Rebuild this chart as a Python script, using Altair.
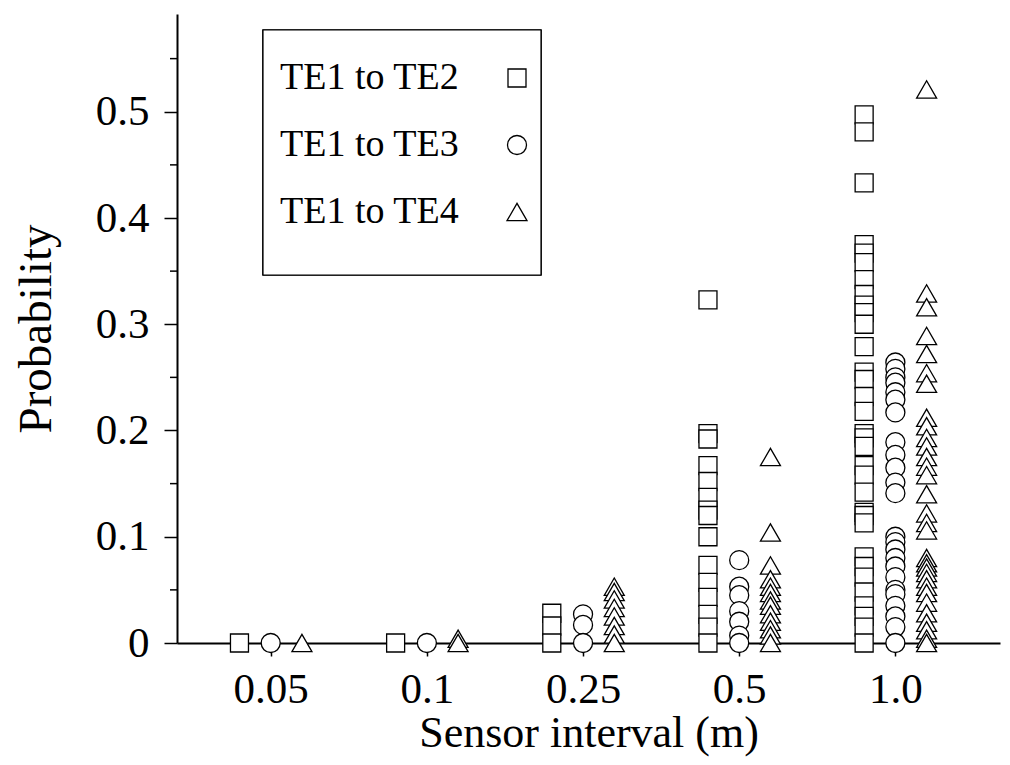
import altair as alt
import pandas as pd

intervals = ["0.05", "0.1", "0.25", "0.5", "1.0"]
series = ["TE1 to TE2", "TE1 to TE3", "TE1 to TE4"]

# values per series, per sensor interval
te2 = {
    "0.05": [0.0],
    "0.1": [0.0],
    "0.25": [0.028, 0.016, 0.0],
    "0.5": [0.323, 0.197, 0.192, 0.167, 0.152, 0.137, 0.125, 0.120, 0.100,
            0.073, 0.057, 0.043, 0.027, 0.015, 0.0],
    "1.0": [0.497, 0.481, 0.433, 0.375, 0.367, 0.358, 0.342, 0.328, 0.318,
            0.311, 0.300, 0.279, 0.255, 0.248, 0.232, 0.218, 0.197, 0.193,
            0.185, 0.167, 0.158, 0.142, 0.123, 0.120, 0.113, 0.081, 0.072,
            0.062, 0.048, 0.035, 0.025, 0.015, 0.0],
}
te3 = {
    "0.05": [0.0],
    "0.1": [0.0],
    "0.25": [0.027, 0.017, 0.0],
    "0.5": [0.078, 0.053, 0.045, 0.030, 0.020, 0.007, 0.0],
    "1.0": [0.264, 0.258, 0.250, 0.245, 0.236, 0.229, 0.217, 0.189, 0.177,
            0.165, 0.151, 0.141, 0.100, 0.095, 0.088, 0.080, 0.072, 0.062,
            0.050, 0.046, 0.035, 0.025, 0.015, 0.0],
}
te4 = {
    "0.05": [0.0],
    "0.1": [0.004, 0.0],
    "0.25": [0.053, 0.048, 0.041, 0.033, 0.025, 0.016, 0.008, 0.0],
    "0.5": [0.175, 0.104, 0.073, 0.060, 0.053, 0.047, 0.040, 0.035, 0.027,
            0.020, 0.013, 0.007, 0.0],
    "1.0": [0.521, 0.329, 0.316, 0.289, 0.272, 0.254, 0.244, 0.212, 0.204,
            0.193, 0.185, 0.175, 0.166, 0.158, 0.140, 0.122, 0.113, 0.106,
            0.080, 0.075, 0.071, 0.066, 0.060, 0.053, 0.047, 0.038, 0.028,
            0.019, 0.012, 0.004, 0.0],
}
series_offsets = [-0.2, 0.0, 0.2]
y_major = [0.0, 0.1, 0.2, 0.3, 0.4, 0.5]
y_minor = [0.05, 0.15, 0.25, 0.35, 0.45, 0.55]

rows = []
for s, off, table in zip(series, series_offsets, [te2, te3, te4]):
    for i, iv in enumerate(intervals):
        for v in table[iv]:
            rows.append({"series": s, "pos": i + off, "value": v})
df = pd.DataFrame(rows)
legend_df = pd.DataFrame({"series": series})

FONT = "Liberation Serif"
label_expr = "[" + ",".join(f"'{t}'" for t in intervals) + "][datum.value]"

x_scale = alt.Scale(domain=[-0.6, 4.67], nice=False, zero=False)
y_scale = alt.Scale(domain=[0, 0.592], nice=False, zero=False)
shape_scale = alt.Scale(domain=series, range=["square", "circle", "triangle-up"])
size_scale = alt.Scale(domain=series, range=[324, 400, 529])

points = alt.Chart(df).mark_point(
    filled=True, fill="white", stroke="black", strokeWidth=1.3, opacity=1
).encode(
    x=alt.X("pos:Q", scale=x_scale,
            axis=alt.Axis(values=list(range(len(intervals))), labelExpr=label_expr,
                          title="Sensor interval (m)", tickSize=13, tickWidth=1.5,
                          tickColor="black", domainColor="black", domainWidth=2,
                          labelPadding=12, labelFontSize=43,
                          titleFontSize=44, titleY=103, titleBaseline="alphabetic",
                          grid=False)),
    y=alt.Y("value:Q", scale=y_scale,
            axis=alt.Axis(values=y_major,
                          labelExpr="datum.value == 0 ? '0' : format(datum.value, '.1f')",
                          title="Probability", tickSize=13, tickWidth=1.5,
                          tickColor="black", domainColor="black", domainWidth=2,
                          labelPadding=15, labelFontSize=43,
                          titleFontSize=47, titleX=-127, titleBaseline="alphabetic",
                          grid=False)),
    shape=alt.Shape("series:N", scale=shape_scale, legend=None),
    size=alt.Size("series:N", scale=size_scale, legend=None),
)

minor = alt.Chart(pd.DataFrame({"v": y_minor})).mark_rule(
    color="black", strokeWidth=1.5
).encode(
    y=alt.Y("v:Q", scale=y_scale, axis=None),
    x=alt.value(-7),
    x2=alt.value(0),
)

# legend: frame, labels and symbols (symbols to the right of the labels)
legend_box = alt.Chart(legend_df).mark_rect(
    fill="white", stroke="black", strokeWidth=1.2
).encode(
    x=alt.value(86), x2=alt.value(364), y=alt.value(16), y2=alt.value(261)
)
legend_y = alt.Y("series:N", scale=alt.Scale(type="point", domain=series,
                                             range=[64, 198], padding=0), axis=None)
legend_text = alt.Chart(legend_df).mark_text(
    align="left", baseline="middle", font=FONT, fontSize=38, color="black"
).encode(
    x=alt.value(103), y=legend_y, text="series:N"
)
legend_sym = alt.Chart(legend_df).mark_point(
    filled=True, fill="white", stroke="black", strokeWidth=1.3, opacity=1
).encode(
    x=alt.value(340), y=legend_y,
    shape=alt.Shape("series:N", scale=shape_scale, legend=None),
    size=alt.Size("series:N", scale=size_scale, legend=None),
)

chart = alt.layer(legend_box, minor, points, legend_text, legend_sym).resolve_scale(
    y="independent"
).properties(
    width=823, height=629,
    autosize=alt.AutoSizeParams(type="none"),
    padding={"left": 169, "top": 6, "right": 2, "bottom": 114},
).configure_view(stroke=None).configure_axis(
    labelFont=FONT, titleFont=FONT,
    labelColor="black", titleColor="black", titleFontWeight="normal",
)

chart.save("out.html", embed_options={"renderer": "svg", "actions": False})
